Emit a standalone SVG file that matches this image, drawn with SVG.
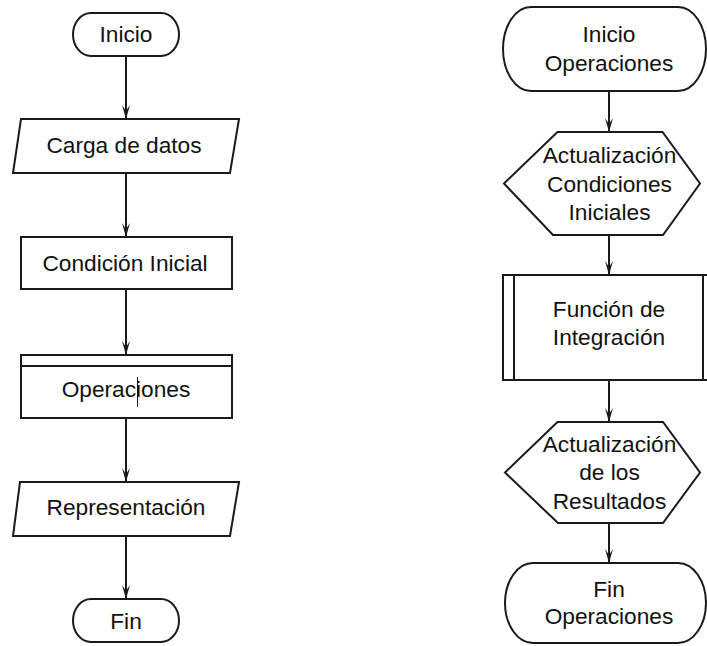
<svg xmlns="http://www.w3.org/2000/svg" width="707" height="646" viewBox="0 0 707 646">
<style>
.s{fill:#fff;stroke:#1a1a1a;stroke-width:2}
.t{font-family:"Liberation Sans",Arial,sans-serif;font-size:22.7px;fill:#111;text-anchor:middle}
.c{stroke:#1a1a1a;stroke-width:2;fill:none}
</style>
<defs>
<marker id="ah" markerWidth="16" markerHeight="10" refX="15" refY="5" orient="auto" markerUnits="userSpaceOnUse" viewBox="0 0 16 10">
<path d="M15,5 L1,1 L7,5 L1,9 Z" fill="#1a1a1a"/>
</marker>
</defs>
<rect width="707" height="646" fill="#fff"/>
<g id="connectors">
<line class="c" x1="126" y1="56" x2="126" y2="119" marker-end="url(#ah)"/>
<line class="c" x1="126" y1="173" x2="126" y2="237" marker-end="url(#ah)"/>
<line class="c" x1="126" y1="289" x2="126" y2="355" marker-end="url(#ah)"/>
<line class="c" x1="126" y1="418" x2="126" y2="482" marker-end="url(#ah)"/>
<line class="c" x1="126" y1="536" x2="126" y2="599" marker-end="url(#ah)"/>
<line class="c" x1="609" y1="91" x2="609" y2="132" marker-end="url(#ah)"/>
<line class="c" x1="609" y1="235" x2="609" y2="275" marker-end="url(#ah)"/>
<line class="c" x1="609" y1="380" x2="609" y2="422" marker-end="url(#ah)"/>
<line class="c" x1="609" y1="523" x2="609" y2="563" marker-end="url(#ah)"/>
</g>
<g id="inicio">
<rect class="s" x="73" y="13" width="106" height="43" rx="18" ry="21.5"/>
<text class="t" x="126" y="42">Inicio</text>
</g>
<g id="carga">
<polygon class="s" points="21,119 239,119 230,173 13,173"/>
<text class="t" x="124" y="153">Carga de datos</text>
</g>
<g id="condicion">
<rect class="s" x="21" y="237" width="211" height="52"/>
<text class="t" x="125" y="270.5">Condición Inicial</text>
</g>
<g id="operaciones">
<rect class="s" x="21" y="355" width="211" height="63"/>
<line class="c" x1="21" y1="366" x2="232" y2="366"/>
<text class="t" x="126" y="397">Operaciones</text>
<line x1="137.5" y1="377" x2="137.5" y2="407" stroke="#111" stroke-width="1"/>
</g>
<g id="representacion">
<polygon class="s" points="20,482 239,482 230,536 13,536"/>
<text class="t" x="126" y="515">Representación</text>
</g>
<g id="fin">
<rect class="s" x="73" y="599" width="106" height="43" rx="18" ry="21.5"/>
<text class="t" x="126" y="629">Fin</text>
</g>
<g id="inicio-operaciones">
<rect class="s" x="503" y="7" width="203" height="84" rx="28" ry="42"/>
<text class="t" x="609" y="42.3">Inicio</text>
<text class="t" x="609" y="71">Operaciones</text>
</g>
<g id="actualizacion-condiciones">
<polygon class="s" points="557.5,132 662.5,132 700,183.5 663,235 553,235 504,183.5"/>
<text class="t" x="609.5" y="162.7">Actualización</text>
<text class="t" x="609.5" y="191.7">Condiciones</text>
<text class="t" x="609.5" y="220">Iniciales</text>
</g>
<g id="funcion-integracion">
<rect class="s" x="503" y="275" width="213" height="105"/>
<line class="c" x1="514" y1="275" x2="514" y2="380"/>
<line class="c" x1="703" y1="275" x2="703" y2="380"/>
<text class="t" x="609" y="317.3">Función de</text>
<text class="t" x="609" y="345">Integración</text>
</g>
<g id="actualizacion-resultados">
<polygon class="s" points="557.5,422 663,422 700,472.5 663,523 558,523 505,472.5"/>
<text class="t" x="609.5" y="451.7">Actualización</text>
<text class="t" x="609.5" y="480">de los</text>
<text class="t" x="609.5" y="509.3">Resultados</text>
</g>
<g id="fin-operaciones">
<rect class="s" x="505" y="563" width="201" height="80" rx="28" ry="40"/>
<text class="t" x="609" y="596.7">Fin</text>
<text class="t" x="609" y="624">Operaciones</text>
</g>
</svg>
